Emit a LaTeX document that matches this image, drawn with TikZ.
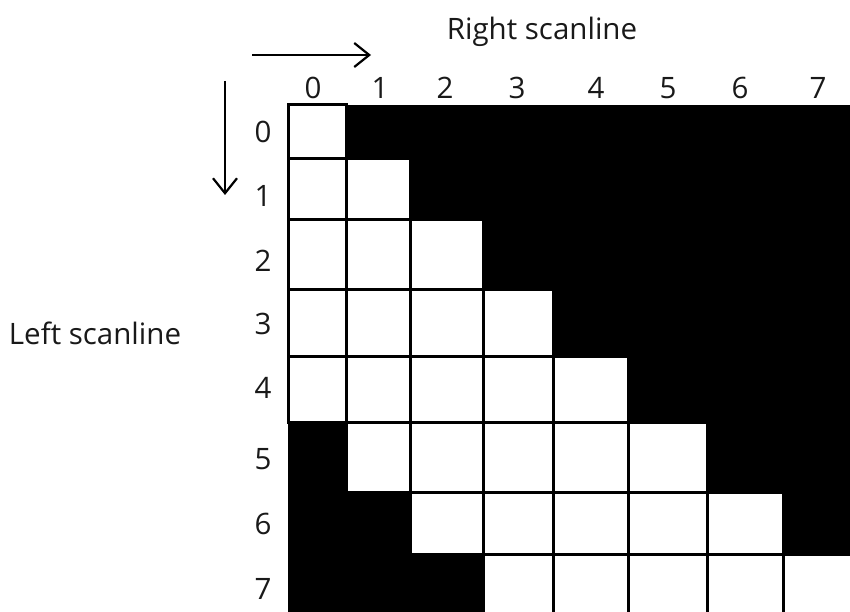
\documentclass[tikz,border=0pt]{standalone}
\usepackage{fontspec}
\setmainfont{Open Sans}
\usetikzlibrary{arrows.meta}
\begin{document}
\begin{tikzpicture}[x=1pt,y=-1pt,
  lbl/.style={font=\fontsize{29.5}{32}\selectfont, inner sep=0pt, text=black!90},
  whitecell/.style={fill=white,draw=black,line width=3pt},
  blackcell/.style={fill=black},
  scanarrow/.style={line width=2.2pt,-{Straight Barb[length=15pt,width=24pt]}}]
\useasboundingbox (0,0) rectangle (850,612);
\fill[white] (0,0) rectangle (850,612);
\def\xs{{288,346,410,483,553,628,707,783,854}}
\def\ys{{105,159,220,289,356,422,492,554,616}}
\begin{scope}
\clip (0,0) rectangle (850,612);
% black cells
\foreach \r in {0,...,7}{\foreach \c in {0,...,7}{
  \pgfmathtruncatemacro\d{\r-\c}
  \pgfmathsetmacro\xa{\xs[\c]}
  \pgfmathsetmacro\xb{\xs[\c+1]}
  \pgfmathsetmacro\ya{\ys[\r]}
  \pgfmathsetmacro\yb{\ys[\r+1]}
  \ifnum\d<0 \fill[blackcell] (\xa,\ya) rectangle (\xb,\yb); \fi
  \ifnum\d>4 \fill[blackcell] (\xa,\ya) rectangle (\xb,\yb); \fi
}}
% white cells
\foreach \r in {0,...,7}{\foreach \c in {0,...,7}{
  \pgfmathtruncatemacro\d{\r-\c}
  \pgfmathsetmacro\xa{\xs[\c]}
  \pgfmathsetmacro\xb{\xs[\c+1]}
  \pgfmathsetmacro\ya{\ys[\r]}
  \pgfmathsetmacro\yb{\ys[\r+1]}
  \ifnum\d>-1 \ifnum\d<5 \path[whitecell] (\xa,\ya) rectangle (\xb,\yb); \fi\fi
}}
\end{scope}
% column labels
\foreach \c/\x in {0/313,1/380,2/445,3/517,4/596,5/668,6/740,7/818}{
  \node[lbl] (col\c) at (\x,88) {\c};
}
% row labels
\foreach \r/\y in {0/132,1/196,2/261,3/324,4/388,5/459,6/524,7/589}{
  \node[lbl] (row\r) at (263,\y) {\r};
}
\node[lbl,anchor=base] (rightlbl) at (542,40) {Right scanline};
\node[lbl,anchor=base] (leftlbl) at (95,344) {Left scanline};
\coordinate (hs) at (252,55);
\coordinate (he) at (371,55);
\coordinate (vs) at (225,81);
\coordinate (ve) at (225,195);
\draw[scanarrow] (hs) -- (he);
\draw[scanarrow] (vs) -- (ve);
\end{tikzpicture}
\end{document}
